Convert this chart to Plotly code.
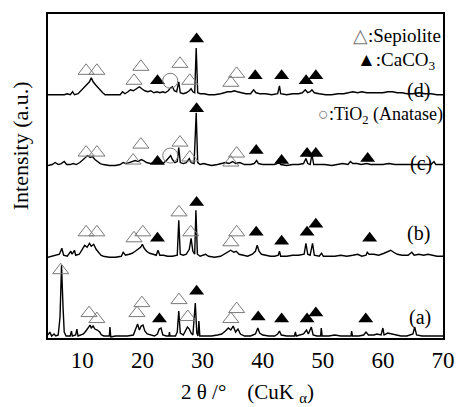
import plotly.graph_objects as go

# ---------------- data (2theta in degrees, relative intensity a.u.) ----------------
A_PATTERN = [
    (4.3, 2), (4.6, 5), (4.9, 1), (5.3, 3), (5.6, 1), (6.0, 2), (6.3, 20), (6.55, 72), (6.8, 30), (7.0, 5),
    (7.3, 1), (8.0, 1), (8.2, 6), (8.35, 1), (8.9, 2), (9.1, 8), (9.3, 1), (9.8, 2), (10.2, 3), (10.6, 6),
    (11.0, 10), (11.3, 12), (11.5, 9), (11.8, 11), (12.1, 8), (12.5, 7), (12.9, 5), (13.2, 2), (13.6, 1),
    (14.5, 1), (14.6, 10), (14.75, 0), (15.5, 1), (16.5, 1), (17.5, 1), (18.5, 2), (18.9, 8), (19.2, 13),
    (19.5, 7), (19.8, 11), (20.1, 12), (20.4, 6), (20.8, 3), (21.5, 2), (22.0, 1), (22.5, 3), (22.8, 8),
    (23.1, 9), (23.4, 2), (24.0, 1), (24.4, 1), (24.5, 5), (24.6, 1), (25.5, 1), (25.8, 5), (26.05, 26),
    (26.3, 4), (26.8, 2), (27.2, 6), (27.5, 10), (27.8, 8), (28.1, 4), (28.4, 2), (28.8, 34), (29.05, 4),
    (29.25, 1), (29.4, 16), (29.55, 1), (30.5, 1), (31.5, 1), (32.5, 2), (33.2, 3), (33.8, 6), (34.3, 9),
    (34.7, 7), (35.1, 11), (35.5, 5), (35.9, 8), (36.3, 3), (37.0, 1), (38.0, 1), (38.8, 3), (39.2, 9),
    (39.5, 4), (40.0, 2), (41.0, 1), (42.0, 1), (42.5, 3), (42.8, 6), (43.1, 2), (44.0, 1), (45.3, 1),
    (45.45, 5), (45.6, 1), (46.8, 3), (47.3, 7), (47.6, 3), (48.1, 10), (48.4, 2), (49.0, 1), (49.65, 1),
    (49.75, 9), (49.9, 1), (51.0, 1), (52.0, 2), (53.0, 1), (54.7, 1), (54.8, 6), (54.95, 1), (56.0, 1),
    (56.8, 2), (57.2, 5), (57.6, 2), (58.5, 2), (59.0, 3), (59.7, 2), (60.0, 9), (60.2, 2), (60.8, 4),
    (61.5, 3), (62.0, 2), (63.0, 1), (64.0, 1), (65.0, 3), (65.3, 10), (65.6, 2), (66.5, 1), (68.0, 1),
    (70.0, 1),
]
B_PATTERN = [
    (4.3, 0), (5.0, 1), (5.8, 2), (6.2, 3), (6.6, 9), (6.9, 2), (7.5, 1), (8.1, 6), (8.3, 3), (8.7, 7),
    (8.9, 2), (9.5, 3), (10.0, 8), (10.4, 12), (10.8, 10), (11.2, 14), (11.5, 11), (11.9, 13), (12.3, 8),
    (12.7, 5), (13.1, 2), (13.5, 1), (14.5, 0), (15.5, 0), (16.5, 1), (16.8, 5), (17.2, 2), (17.8, 3),
    (18.3, 4), (18.8, 6), (19.3, 8), (19.7, 10), (20.0, 13), (20.3, 9), (20.7, 6), (21.2, 4), (21.8, 3),
    (22.3, 2), (22.6, 7), (22.9, 2), (23.5, 2), (24.2, 1), (25.0, 1), (25.8, 2), (26.05, 37), (26.3, 3),
    (26.8, 2), (27.3, 3), (27.8, 8), (28.1, 19), (28.4, 6), (28.7, 3), (28.9, 47), (29.15, 3), (29.6, 1),
    (30.5, 3), (31.0, 1), (32.0, 0), (33.0, 1), (33.6, 3), (34.2, 5), (34.7, 7), (35.2, 5), (35.6, 6),
    (36.1, 3), (36.7, 2), (37.5, 1), (38.3, 3), (38.8, 6), (39.1, 12), (39.4, 6), (39.8, 3), (40.5, 2),
    (41.3, 1), (42.0, 1), (42.6, 2), (42.8, 6), (43.0, 1), (44.0, 1), (45.0, 2), (46.0, 2), (46.9, 3),
    (47.2, 14), (47.5, 3), (47.9, 2), (48.3, 14), (48.6, 2), (49.4, 1), (49.8, 4), (50.1, 1), (51.0, 1),
    (52.0, 1), (53.0, 2), (54.0, 1), (55.0, 2), (55.8, 3), (56.5, 1), (57.2, 2), (57.4, 5), (57.7, 3),
    (58.5, 3), (59.3, 2), (60.2, 4), (60.8, 6), (61.3, 7), (61.8, 5), (62.4, 3), (63.2, 2), (64.2, 2),
    (64.8, 5), (65.2, 2), (66.0, 3), (66.8, 2), (67.5, 3), (68.3, 2), (69.0, 1), (70.0, 1),
]
C_PATTERN = [
    (4.3, 0), (5.0, 1), (5.5, 3), (6.0, 1), (6.5, 2), (7.0, 4), (7.4, 1), (8.0, 1), (8.5, 2), (9.0, 1),
    (9.6, 3), (10.1, 6), (10.5, 8), (10.9, 10), (11.3, 8), (11.7, 9), (12.1, 6), (12.6, 4), (13.0, 2),
    (13.5, 1), (14.5, 0), (15.5, 0), (16.3, 1), (16.8, 3), (17.3, 2), (17.8, 3), (18.3, 4), (18.8, 5),
    (19.3, 4), (19.8, 6), (20.2, 5), (20.7, 3), (21.3, 2), (21.8, 3), (22.3, 2), (22.7, 4), (23.1, 2),
    (23.6, 3), (24.0, 5), (24.4, 8), (24.7, 10), (25.0, 6), (25.4, 3), (25.8, 4), (26.05, 18), (26.3, 3),
    (26.8, 2), (27.3, 3), (27.8, 7), (28.1, 3), (28.6, 2), (28.95, 53), (29.2, 3), (29.6, 1), (30.2, 2),
    (30.8, 1), (31.5, 0), (32.5, 1), (33.3, 2), (33.8, 3), (34.4, 2), (35.0, 4), (35.5, 2), (36.2, 3),
    (37.0, 1), (38.0, 1), (38.6, 2), (39.0, 5), (39.3, 2), (40.0, 1), (41.0, 1), (42.0, 1), (42.8, 3),
    (43.0, 1), (44.0, 0), (45.0, 1), (46.0, 1), (46.8, 2), (47.2, 7), (47.5, 2), (47.9, 1), (48.2, 11),
    (48.5, 1), (49.3, 1), (50.3, 1), (51.5, 0), (52.5, 1), (53.3, 2), (54.2, 1), (54.6, 4), (55.0, 2),
    (55.7, 2), (56.4, 1), (57.3, 2), (58.0, 1), (59.0, 1), (60.0, 1), (61.0, 2), (62.0, 1), (63.0, 1),
    (64.0, 1), (65.0, 1), (66.0, 1), (67.0, 1), (68.0, 1), (68.5, 4), (68.8, 1), (70.0, 1),
]
D_PATTERN = [
    (4.3, 0), (5.0, 0), (6.0, 0), (7.0, 0), (7.5, 1), (8.0, 0), (8.4, 3), (8.7, 0), (9.3, 1), (9.8, 4),
    (10.3, 8), (10.8, 11), (11.2, 13), (11.5, 17), (11.8, 13), (12.2, 10), (12.6, 7), (13.0, 4), (13.4, 2),
    (13.8, 0), (14.5, 0), (15.5, 0), (16.3, 0), (16.7, 3), (17.1, 1), (17.6, 3), (18.0, 5), (18.5, 4),
    (19.0, 6), (19.5, 8), (19.9, 6), (20.4, 4), (20.9, 3), (21.4, 4), (21.9, 2), (22.4, 3), (22.9, 2),
    (23.4, 3), (23.8, 2), (24.3, 4), (24.7, 7), (25.0, 8), (25.3, 4), (25.7, 3), (26.05, 13), (26.3, 2),
    (26.8, 1), (27.3, 2), (27.8, 4), (28.1, 6), (28.4, 3), (28.7, 2), (28.95, 47), (29.2, 2), (29.6, 1),
    (30.3, 1), (31.0, 0), (32.0, 0), (33.0, 1), (33.6, 2), (34.2, 3), (34.8, 3), (35.3, 4), (35.8, 3),
    (36.4, 2), (37.2, 1), (38.0, 1), (38.5, 5), (38.9, 2), (39.5, 1), (40.5, 1), (41.5, 0), (42.5, 1),
    (42.8, 9), (43.0, 1), (44.0, 0), (45.0, 1), (46.0, 1), (46.6, 2), (47.1, 5), (47.5, 2), (47.9, 3),
    (48.2, 5), (48.6, 2), (49.4, 1), (50.5, 0), (51.5, 0), (52.5, 1), (53.5, 1), (54.3, 2), (55.0, 3),
    (55.8, 2), (56.5, 3), (57.3, 2), (58.0, 2), (59.0, 2), (60.0, 2), (60.8, 3), (61.6, 3), (62.4, 2),
    (63.2, 2), (64.0, 1), (65.0, 1), (66.0, 2), (67.0, 1), (68.0, 1), (69.0, 0), (70.0, 0),
]
SAMPLE_LABELS = ["(a)", "(b)", "(c)", "(d)"]

# phase markers (2theta, intensity on the stacked scale)
SEPIOLITE_MARKS = [
    (6.41, 68), (11.13, 25), (12.43, 19), (19.10, 25), (19.91, 35), (26.09, 38), (27.55, 21), (34.71, 19), (35.68, 29),
    (10.64, 106), (12.43, 106), (18.61, 100), (20.07, 106), (26.09, 126), (28.04, 106), (34.71, 96), (35.68, 106),
    (10.64, 186), (12.43, 186), (18.45, 178), (19.75, 194), (26.25, 196), (27.88, 181), (34.71, 176), (35.68, 185),
    (10.64, 268), (12.43, 268), (18.61, 258), (19.75, 272), (26.25, 275), (27.88, 258), (34.71, 256), (35.68, 265),
]
CACO3_MARKS = [
    (22.84, 19), (29.02, 47), (39.26, 21), (43.16, 19), (47.39, 19), (48.85, 25), (57.15, 19),
    (22.51, 100), (29.02, 136), (38.93, 106), (43.16, 97), (47.39, 106), (48.85, 114), (57.80, 100),
    (22.51, 177), (29.02, 230), (38.93, 188), (43.16, 178), (47.39, 185), (48.85, 185), (57.47, 180),
    (22.51, 258), (29.02, 300), (38.77, 263), (43.16, 263), (47.23, 258), (48.85, 263),
]
TIO2_MARKS = [(24.63, 183), (24.63, 258)]

# ---------------- styling / layout constants ----------------
OFFSETS = [1, 81, 173, 244]
LABEL_POS = [(66.1, 21), (66.0, 105), (66.4, 175), (66.0, 248)]
SERIF = "Liberation Serif, Times New Roman, serif"
GRAY = "#7a7a7a"

fig = go.Figure()
for pat, off in zip([A_PATTERN, B_PATTERN, C_PATTERN, D_PATTERN], OFFSETS):
    fig.add_trace(go.Scatter(
        x=[p[0] for p in pat], y=[p[1] + off for p in pat], mode="lines",
        line=dict(color="black", width=1.4), showlegend=False, hoverinfo="skip"))

fig.add_trace(go.Scatter(
    x=[m[0] for m in SEPIOLITE_MARKS], y=[m[1] for m in SEPIOLITE_MARKS], mode="markers",
    marker=dict(symbol="triangle-up-open", size=14, color=GRAY, line=dict(width=1)),
    showlegend=False, hoverinfo="skip"))
fig.add_trace(go.Scatter(
    x=[m[0] for m in CACO3_MARKS], y=[m[1] for m in CACO3_MARKS], mode="markers",
    marker=dict(symbol="triangle-up", size=13, color="black"),
    showlegend=False, hoverinfo="skip"))
fig.add_trace(go.Scatter(
    x=[m[0] for m in TIO2_MARKS], y=[m[1] for m in TIO2_MARKS], mode="markers",
    marker=dict(symbol="circle-open", size=15, color=GRAY, line=dict(width=1)),
    showlegend=False, hoverinfo="skip"))

annotations = []
for lab, (lx, ly) in zip(SAMPLE_LABELS, LABEL_POS):
    annotations.append(dict(x=lx, y=ly, xref="x", yref="y", text=lab, showarrow=False,
                            font=dict(family=SERIF, size=20, color="black")))

annotations += [
    dict(x=70, y=303, xref="x", yref="y", xanchor="right", yanchor="middle", showarrow=False,
         text="<span style='color:%s'>△</span>:Sepiolite" % GRAY,
         font=dict(family=SERIF, size=19, color="black")),
    dict(x=55.4, y=278, xref="x", yref="y", xanchor="left", yanchor="middle", showarrow=False,
         text="▲:CaCO<sub>3</sub>", font=dict(family=SERIF, size=19, color="black")),
    dict(x=48.9, y=223, xref="x", yref="y", xanchor="left", yanchor="middle", showarrow=False,
         text="<span style='color:%s'>○</span>:TiO<sub>2</sub> (Anatase)" % GRAY,
         font=dict(family=SERIF, size=18, color="black")),
    dict(x=0.504, y=-0.169, xref="paper", yref="paper", xanchor="center", yanchor="middle",
         showarrow=False, text="2 θ /°    (CuK <sub>α</sub>)",
         font=dict(family=SERIF, size=21, color="black")),
    dict(x=-0.069, y=0.594, xref="paper", yref="paper", xanchor="center", yanchor="middle",
         textangle=-90, showarrow=False, text="Intensity (a.u.)",
         font=dict(family=SERIF, size=22, color="black")),
]

fig.update_layout(
    width=467, height=407,
    margin=dict(l=48, r=14, t=13, b=69),
    paper_bgcolor="white", plot_bgcolor="white",
    annotations=annotations,
    xaxis=dict(range=[4.3, 70], tickvals=[10, 20, 30, 40, 50, 60, 70], ticks="",
               showgrid=False, zeroline=False, showline=True, linecolor="black", linewidth=2,
               mirror=True, tickfont=dict(family=SERIF, size=23, color="black")),
    yaxis=dict(range=[0, 325], showticklabels=False, ticks="", showgrid=False, zeroline=False,
               showline=True, linecolor="black", linewidth=2, mirror=True),
)

fig.write_html("out.html", config={"displayModeBar": False},
               post_script="document.body.style.margin='0';document.body.style.overflow='hidden';")
